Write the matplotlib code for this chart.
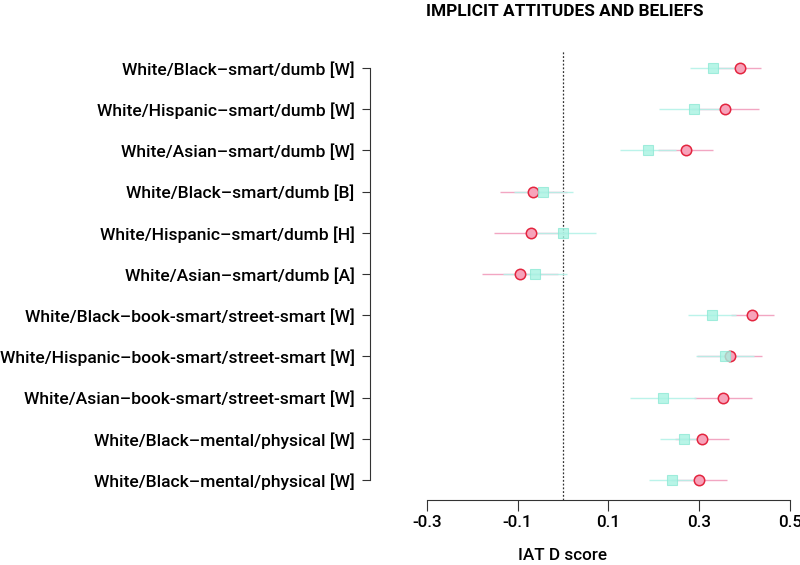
import matplotlib
matplotlib.use("Agg")
import matplotlib.pyplot as plt
import numpy as np

# IAT tasks, top to bottom
labels = [
    "White/Black\u2013smart/dumb [W]",
    "White/Hispanic\u2013smart/dumb [W]",
    "White/Asian\u2013smart/dumb [W]",
    "White/Black\u2013smart/dumb [B]",
    "White/Hispanic\u2013smart/dumb [H]",
    "White/Asian\u2013smart/dumb [A]",
    "White/Black\u2013book-smart/street-smart [W]",
    "White/Hispanic\u2013book-smart/street-smart [W]",
    "White/Asian\u2013book-smart/street-smart [W]",
    "White/Black\u2013mental/physical [W]",
    "White/Black\u2013mental/physical [W]",
]
# red circles
circ_mean = [0.389, 0.357, 0.270, -0.065, -0.071, -0.095, 0.417, 0.367, 0.352, 0.306, 0.300]
circ_err = [0.047, 0.074, 0.061, 0.074, 0.081, 0.084, 0.048, 0.072, 0.064, 0.059, 0.061]
# cyan squares
sq_mean = [0.330, 0.289, 0.187, -0.043, -0.001, -0.062, 0.328, 0.357, 0.220, 0.267, 0.241]
sq_err = [0.050, 0.078, 0.061, 0.064, 0.074, 0.070, 0.052, 0.064, 0.072, 0.053, 0.051]

xticks = [-0.3, -0.1, 0.1, 0.3, 0.5]

plt.rcParams['font.family'] = ['Roboto', 'DejaVu Sans']

fig = plt.figure(figsize=(8, 5.65), dpi=100)
ax = fig.add_axes([370/800, 1 - 500/565, 425/800, 449/565])

y = np.arange(len(labels))

ax.axvline(0, color='#333333', lw=0.9, ls=(0, (1.5, 1.5)), zorder=1)

# error lines
ax.hlines(y, np.array(circ_mean) - np.array(circ_err), np.array(circ_mean) + np.array(circ_err),
          color='#f2a6c2', lw=1.0, zorder=2)
ax.hlines(y, np.array(sq_mean) - np.array(sq_err), np.array(sq_mean) + np.array(sq_err),
          color='#b4f2e8', lw=1.0, alpha=0.9, zorder=2)

ax.plot(circ_mean, y, 'o', ms=7.5, mfc='#f7a3ba', mec='#e3253f', mew=1.1, ls='none', zorder=3)
ax.plot(sq_mean, y, 's', ms=7, mfc='#a6f3e2', mec='#8fe9d5', mew=0.8, alpha=0.8, ls='none', zorder=4)

ax.set_xlim(-0.425, 0.511)
ax.set_ylim(len(labels) - 1 + 0.485, -0.41)

ax.set_yticks(y)
ax.set_yticklabels(labels, fontsize=12.6, fontweight='medium')
ax.set_xticks(xticks)
ax.set_xticklabels(['%.1f' % t for t in xticks], fontsize=12.3, fontweight='medium')
ax.tick_params(axis='y', length=6, pad=5, color='#333333')
ax.tick_params(axis='x', length=8, pad=3, color='#333333')

for s in ['top', 'right']:
    ax.spines[s].set_visible(False)
ax.spines['left'].set_bounds(0, len(labels) - 1)
ax.spines['bottom'].set_bounds(-0.3, 0.5)
ax.spines['left'].set_color('#333333')
ax.spines['bottom'].set_color('#333333')

fig.text(563/800, 1 - 555/565, 'IAT D score', ha='center', va='center',
         fontsize=12.3, fontweight='medium')
fig.text(565/800, 1 - 12/565, 'IMPLICIT ATTITUDES AND BELIEFS', ha='center', va='center',
         fontsize=12.4, fontweight='bold')

fig.savefig('out.png', dpi=100)
